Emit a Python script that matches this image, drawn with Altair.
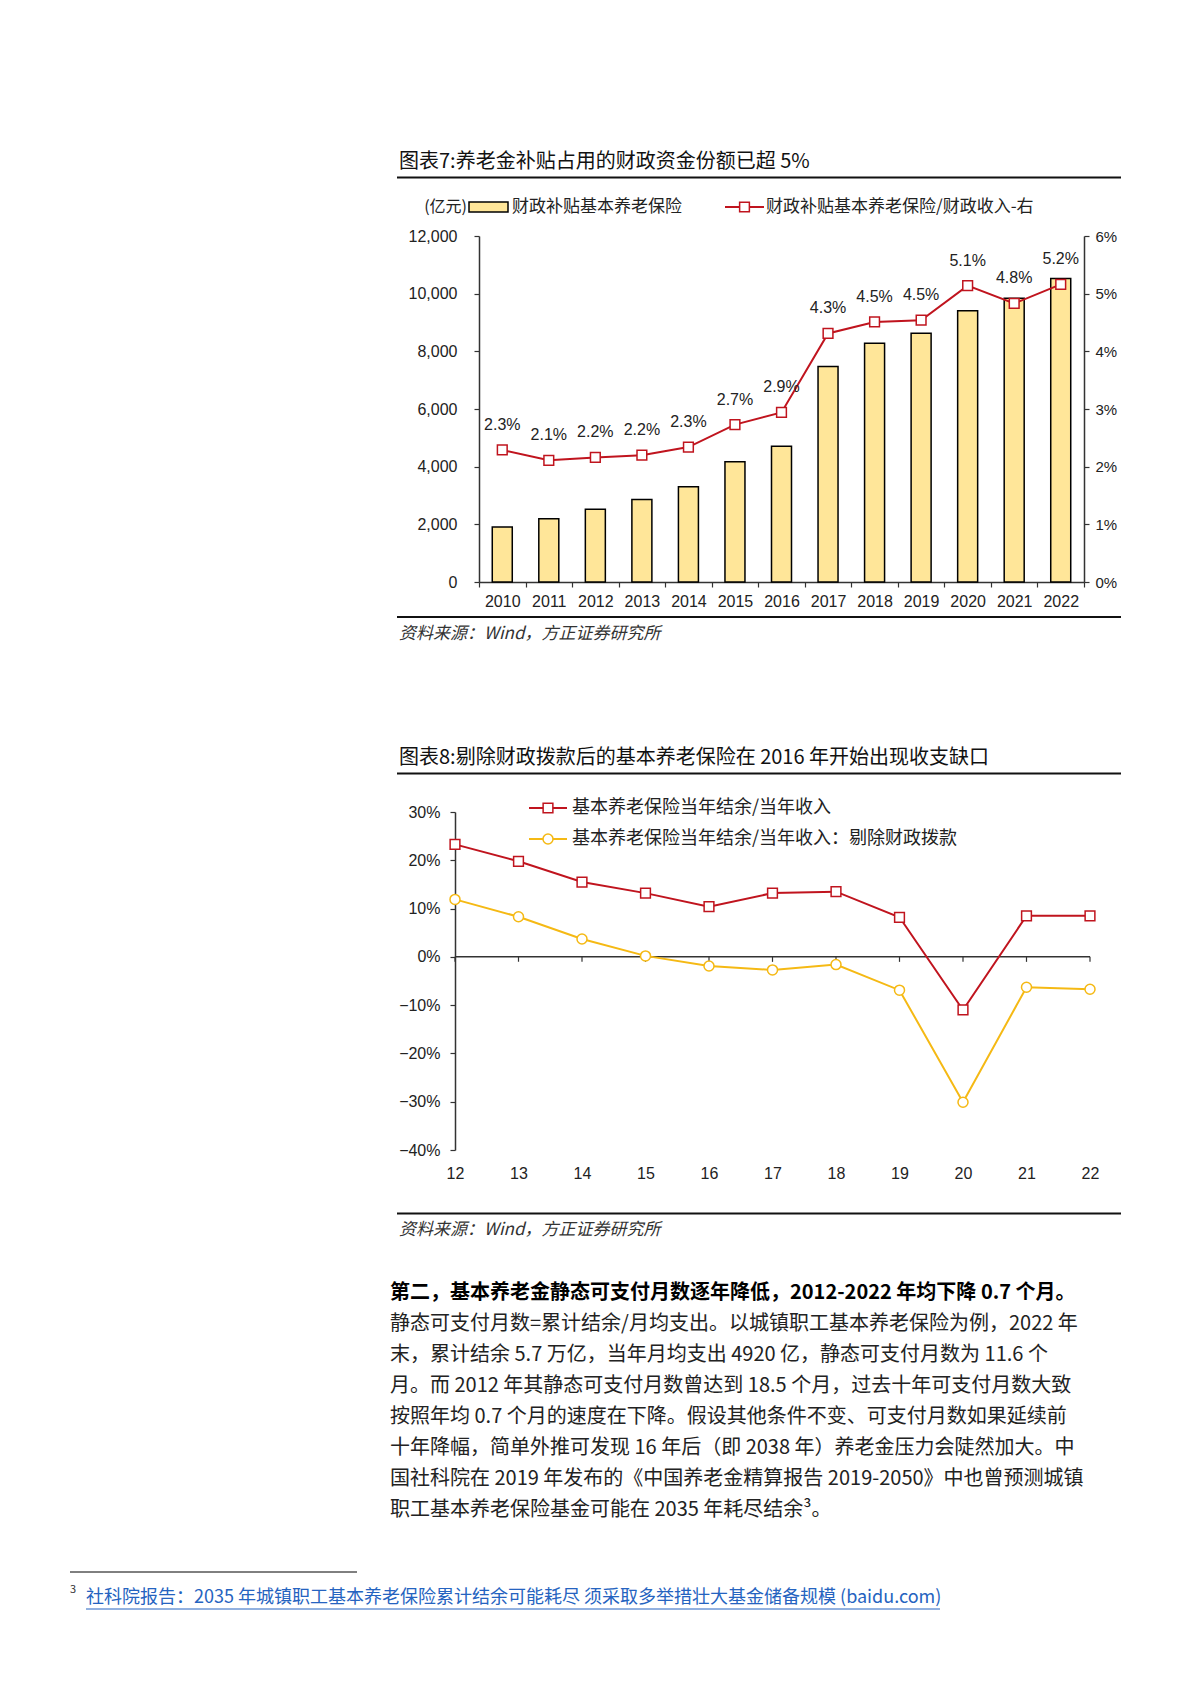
import altair as alt
import pandas as pd

# ---------------- chart 7 data ----------------
years = ["2010", "2011", "2012", "2013", "2014", "2015", "2016",
         "2017", "2018", "2019", "2020", "2021", "2022"]
subsidy = [1910, 2190, 2520, 2860, 3300, 4170, 4710, 7470, 8280, 8630, 9410, 9840, 10530]
ratio = [0.0229, 0.0211, 0.0216, 0.0220, 0.0234, 0.0273, 0.0294,
         0.0431, 0.0451, 0.0454, 0.0514, 0.0483, 0.0516]
left_ticks = [0, 2000, 4000, 6000, 8000, 10000, 12000]
right_ticks = [0, 0.01, 0.02, 0.03, 0.04, 0.05, 0.06]

# ---------------- chart 8 data ----------------
yrs = ["12", "13", "14", "15", "16", "17", "18", "19", "20", "21", "22"]
surplus = [0.233, 0.198, 0.155, 0.132, 0.104, 0.132, 0.135, 0.082, -0.110, 0.085, 0.085]
surplus_ex = [0.119, 0.083, 0.037, 0.002, -0.019, -0.027, -0.016, -0.069, -0.301, -0.063, -0.067]
pct_ticks = [-0.4, -0.3, -0.2, -0.1, 0.0, 0.1, 0.2, 0.3]

# ---------------- texts ----------------
title7 = "图表7:养老金补贴占用的财政资金份额已超 5%"
unit7 = "(亿元)"
leg7a = "财政补贴基本养老保险"
leg7b = "财政补贴基本养老保险/财政收入-右"
title8 = "图表8:剔除财政拨款后的基本养老保险在 2016 年开始出现收支缺口"
leg8a = "基本养老保险当年结余/当年收入"
leg8b = "基本养老保险当年结余/当年收入：剔除财政拨款"
source = "资料来源：Wind，方正证券研究所"
bold_line = "第二，基本养老金静态可支付月数逐年降低，2012-2022 年均下降 0.7 个月。"
para = [
    "静态可支付月数=累计结余/月均支出。以城镇职工基本养老保险为例，2022 年",
    "末，累计结余 5.7 万亿，当年月均支出 4920 亿，静态可支付月数为 11.6 个",
    "月。而 2012 年其静态可支付月数曾达到 18.5 个月，过去十年可支付月数大致",
    "按照年均 0.7 个月的速度在下降。假设其他条件不变、可支付月数如果延续前",
    "十年降幅，简单外推可发现 16 年后（即 2038 年）养老金压力会陡然加大。中",
    "国社科院在 2019 年发布的《中国养老金精算报告 2019-2050》中也曾预测城镇",
    "职工基本养老保险基金可能在 2035 年耗尽结余³。",
]
foot_no = "3"
foot_text = "社科院报告：2035 年城镇职工基本养老保险累计结余可能耗尽 须采取多举措壮大基金储备规模 (baidu.com)"

CJK = "Noto Sans CJK SC"
NUM = "Liberation Sans"
RED = "#C0141E"
YEL = "#F5B914"
BARF = "#FFE699"
AX = "#333333"
TXT = "#222222"

one = pd.DataFrame({"k": [0]})


def T(s, x, y, size, align="left", font=CJK, color=TXT, **kw):
    return alt.Chart(one).mark_text(
        text=s, align=align, baseline="middle", fontSize=size, font=font, color=color, **kw
    ).encode(x=alt.value(x), y=alt.value(y))


def R(x1, x2, y, color=AX, w=2.0):
    return alt.Chart(one).mark_rule(color=color, strokeWidth=w).encode(
        x=alt.value(x1), x2=alt.value(x2), y=alt.value(y))


def axis_common(**kw):
    base = dict(title=None, grid=False, labelFont=NUM, labelColor=TXT,
                domainColor=AX, tickColor=AX, domainWidth=1.5, tickWidth=1.2)
    base.update(kw)
    return alt.Axis(**base)


# ---------------- panel 1 ----------------
W1, H1 = 629, 346
OFF1 = 24
df1 = pd.DataFrame({"year": years, "subsidy": subsidy, "ratio": ratio})
xs1 = alt.Scale(domain=years, range=[OFF1, W1], paddingInner=0, paddingOuter=0)
x1 = alt.X("year:N", scale=xs1, sort=None,
           axis=axis_common(labelAngle=0, tickBand="extent", tickSize=5,
                            labelPadding=6, labelFontSize=16))
y_left = alt.Y("subsidy:Q", scale=alt.Scale(domain=[0, 12000], nice=False),
               axis=axis_common(values=left_ticks, format=",.0f", orient="left",
                                offset=-OFF1, tickSize=5, labelPadding=17, labelFontSize=16))
y_right = alt.Y("ratio:Q", scale=alt.Scale(domain=[0, 0.06], nice=False),
                axis=axis_common(values=right_ticks, format=".0%", orient="right",
                                 tickSize=5, labelPadding=6, labelFontSize=15))

bars = alt.Chart(df1).mark_bar(size=20, fill=BARF, stroke="#000000", strokeWidth=1.5).encode(
    x=x1, y=y_left)
ln1 = alt.Chart(df1).mark_line(color=RED, strokeWidth=2).encode(x=x1, y=y_right)
pt1 = alt.Chart(df1).mark_point(shape="square", size=95, filled=True, fill="white",
                                stroke=RED, strokeWidth=1.5, opacity=1).encode(x=x1, y=y_right)
lb1 = alt.Chart(df1).mark_text(dy=-25, fontSize=16, font=NUM, color=TXT).encode(
    x=x1, y=y_right, text=alt.Text("ratio:Q", format=".1%"))
right_layer = alt.layer(ln1, pt1, lb1)

anchor = alt.Chart(one).mark_rule(color="white", strokeWidth=1).encode(
    x=alt.value(-446.5), x2=alt.value(-440), y=alt.value(-227.5))

annots1 = [
    anchor,
    T(title7, -56, -74, 20, color="#111111"),
    R(-58, 666, -58.5, color="#111111", w=2),
    T(unit7, 12, -29, 16, align="right"),
    alt.Chart(one).mark_rect(fill=BARF, stroke="#000000", strokeWidth=1.5).encode(
        x=alt.value(14), x2=alt.value(53), y=alt.value(-34), y2=alt.value(-24)),
    T(leg7a, 57, -29, 17),
    R(270, 309, -29, color=RED, w=2),
    alt.Chart(one).mark_point(shape="square", size=95, filled=True, fill="white",
                              stroke=RED, strokeWidth=1.5, opacity=1).encode(
        x=alt.value(289.5), y=alt.value(-29)),
    T(leg7b, 311, -29, 17),
    R(-58, 666, 381, color="#111111", w=2),
    T(source, -56, 398, 17, fontStyle="italic", color="#333333"),
]

p1 = alt.layer(bars, right_layer, *annots1).resolve_scale(y="independent").properties(
    width=W1, height=H1)

# ---------------- panel 2 ----------------
W2, H2 = 635, 338
df2 = pd.DataFrame({"yr": yrs, "a": surplus, "b": surplus_ex})
xs2 = alt.Scale(type="point", domain=yrs, padding=0)
ys2 = alt.Scale(domain=[-0.4, 0.3], nice=False)
x2 = alt.X("yr:N", scale=xs2, sort=None,
           axis=axis_common(labelAngle=0, domain=False, ticks=False,
                            labelPadding=15, labelFontSize=16))
yax2 = axis_common(values=pct_ticks, format=".0%", tickSize=5, labelPadding=10, labelFontSize=16)
ya = alt.Y("a:Q", scale=ys2, axis=yax2)
yb = alt.Y("b:Q", scale=ys2, axis=yax2)

zero = alt.Chart(one).mark_rule(color=AX, strokeWidth=1.5).encode(y=alt.datum(0))
zticks = alt.Chart(df2).mark_tick(orient="vertical", size=5, thickness=1.2, yOffset=2.5,
                                  color=AX, opacity=1).encode(x=x2, y=alt.datum(0))
lnb = alt.Chart(df2).mark_line(color=YEL, strokeWidth=2).encode(x=x2, y=yb)
ptb = alt.Chart(df2).mark_point(shape="circle", size=100, filled=True, fill="white",
                                stroke=YEL, strokeWidth=1.5, opacity=1).encode(x=x2, y=yb)
lna = alt.Chart(df2).mark_line(color=RED, strokeWidth=2).encode(x=x2, y=ya)
pta = alt.Chart(df2).mark_point(shape="square", size=95, filled=True, fill="white",
                                stroke=RED, strokeWidth=1.5, opacity=1).encode(x=x2, y=ya)

annots2 = [
    T(title8, -56, -54, 20, color="#111111"),
    R(-58, 666, -38.5, color="#111111", w=2),
    R(74, 112, -4, color=RED, w=2),
    alt.Chart(one).mark_point(shape="square", size=95, filled=True, fill="white",
                              stroke=RED, strokeWidth=1.5, opacity=1).encode(
        x=alt.value(93), y=alt.value(-4)),
    T(leg8a, 117, -4, 18),
    R(74, 112, 27, color=YEL, w=2),
    alt.Chart(one).mark_point(shape="circle", size=100, filled=True, fill="white",
                              stroke=YEL, strokeWidth=1.5, opacity=1).encode(
        x=alt.value(93), y=alt.value(27)),
    T(leg8b, 117, 27, 18),
    R(-58, 666, 401.5, color="#111111", w=2),
    T(source, -56, 418, 17, fontStyle="italic", color="#333333"),
    T(bold_line, -65, 481, 20, fontWeight="bold", color="#000000"),
]
for i, line in enumerate(para):
    annots2.append(T(line, -65, 512 + 31 * i, 20, color="#222222"))
annots2 += [
    R(-385, -98, 760, color="#000000", w=1),
    T(foot_no, -385, 778, 11, color="#333333"),
    T(foot_text, -369, 786, 18, color="#2563C0"),
    R(-369, 485, 797, color="#2563C0", w=1),
]

p2 = alt.layer(zero, zticks, lnb, ptb, lna, pta, *annots2).properties(width=W2, height=H2)

chart = alt.vconcat(p1, p2, spacing=230, bounds="flush").properties(
    padding=0
).configure(font=CJK).configure_view(stroke=None)

chart.save("out.html", embed_options={"renderer": "svg", "actions": False})
